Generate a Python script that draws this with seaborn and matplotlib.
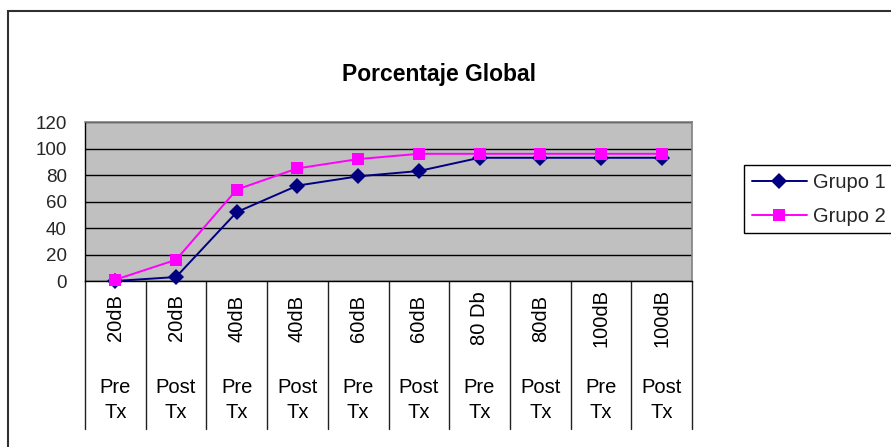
import matplotlib
matplotlib.use("Agg")
import matplotlib.pyplot as plt
import matplotlib.transforms as mtransforms
from matplotlib.patches import Rectangle
import seaborn as sns
import pandas as pd

# ---- data ----
levels = ["20dB", "20dB", "40dB", "40dB", "60dB", "60dB", "80 Db", "80dB", "100dB", "100dB"]
phases = ["Pre\nTx", "Post\nTx", "Pre\nTx", "Post\nTx", "Pre\nTx", "Post\nTx",
          "Pre\nTx", "Post\nTx", "Pre\nTx", "Post\nTx"]
grupo1 = [0, 3, 52, 72, 79, 83, 93, 93, 93, 93]
grupo2 = [1, 16, 69, 85, 92, 96, 96, 96, 96, 96]
series_names = ["Grupo 1", "Grupo 2"]
title = "Porcentaje Global"
yticks = [0, 20, 40, 60, 80, 100, 120]

n = len(levels)
df = pd.DataFrame({
    "idx": list(range(n)) * 2,
    "valor": grupo1 + grupo2,
    "serie": [series_names[0]] * n + [series_names[1]] * n,
})

sns.set_style("white")
plt.rcParams["font.family"] = ["Liberation Sans", "DejaVu Sans"]

W, H = 891, 447
fig = plt.figure(figsize=(W / 100, H / 100), dpi=100)
L, R, T, B = 85, 692, 122, 281
ax = fig.add_axes([L / W, 1 - B / H, (R - L) / W, (B - T) / H])
ax.set_facecolor("#C0C0C0")

sns.lineplot(data=df, x="idx", y="valor", hue="serie", style="serie",
             palette={"Grupo 1": "#000080", "Grupo 2": "#FF00FF"},
             markers={"Grupo 1": "D", "Grupo 2": "s"}, dashes=False,
             markersize=8, linewidth=1.4, markeredgewidth=0,
             ax=ax, legend=True, clip_on=False, zorder=3)

ax.set_xlim(-0.5, n - 0.5)
ax.set_ylim(0, 120)
ax.set_yticks(yticks)
ax.set_yticklabels([str(v) for v in yticks], fontsize=13.5)
ax.set_xticks([])
ax.set_xlabel("")
ax.set_ylabel("")
ax.tick_params(axis="y", direction="out", length=6, width=1, color="black", pad=7)
ax.yaxis.grid(True, color="black", linewidth=1)
ax.set_axisbelow(True)
for s in ["top", "right"]:
    ax.spines[s].set_color("#808080")
    ax.spines[s].set_linewidth(1.2)
for s in ["left", "bottom"]:
    ax.spines[s].set_color("black")
    ax.spines[s].set_linewidth(1)

# category table below axis
trans = mtransforms.blended_transform_factory(ax.transData, ax.transAxes)
h = (B - T)
sep_bottom = -(429 - B) / h
for b in range(n + 1):
    ax.plot([b - 0.5, b - 0.5], [0, sep_bottom], transform=trans, color="#202020",
            lw=1, clip_on=False)
for i in range(n):
    ax.text(i, -(318 - B) / h, levels[i], transform=trans, rotation=90,
            ha="center", va="center", fontsize=14.5, color="black")
    ax.text(i, -(400 - B) / h, phases[i], transform=trans, ha="center",
            va="center", fontsize=14.5, linespacing=1.45, color="black")

# title
fig.text(439 / W, 1 - 74 / H, title, ha="center", va="center",
         fontsize=16.5, fontweight="bold", color="black")

# legend
handles, labels = ax.get_legend_handles_labels()
ax.get_legend().remove()
leg = fig.legend(handles, labels, loc="upper left",
                 bbox_to_anchor=(744 / W, 1 - 165 / H), fontsize=14.5,
                 frameon=True, fancybox=False, framealpha=1, borderpad=0.38,
                 handlelength=2.75, handletextpad=0.3, labelspacing=0.75,
                 borderaxespad=0)
leg.get_frame().set_edgecolor("black")
leg.get_frame().set_linewidth(1)

# outer chart border
fig.patches.append(Rectangle((8 / W, -0.2), 1.2, 1.2 - 11 / H, transform=fig.transFigure,
                             fill=False, edgecolor="#303030", linewidth=1.5,
                             clip_on=False))

fig.savefig("out.png", dpi=100)
